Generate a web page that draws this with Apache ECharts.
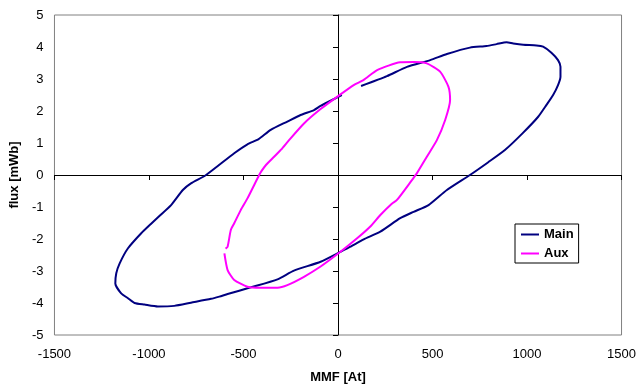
<!DOCTYPE html>
<html><head><meta charset="utf-8">
<script src="https://cdn.jsdelivr.net/npm/echarts@6/dist/echarts.min.js"></script>
<style>html,body{margin:0;padding:0;background:#fff;}#c{width:639px;height:390px;}</style>
</head><body><div id="c"></div>
<script>
var xTicks = [-1500, -1000, -500, 0, 500, 1000, 1500];
var yTicks = [-5, -4, -3, -2, -1, 0, 1, 2, 3, 4, 5];
var seriesNames = ['Main', 'Aux'];
var mainX = [122, 259, 365, 488, 576, 698, 786, 839, 892, 927, 980, 1050, 1085, 1129, 1164, 1177, 1177, 1164, 1138, 1103, 1059, 976, 883, 795, 698, 576, 479, 400, 329, 224, 136, 66, 13, -92, -233, -320, -461, -584, -628, -672, -778, -866, -953, -1024, -1076, -1111, -1147, -1178, -1173, -1155, -1111, -1041, -990, -945, -883, -821, -778, -698, -549, -479, -420, -356, -268, -198, -127, -92, 4, 20];
var mainY = [2.78, 3.09, 3.38, 3.59, 3.78, 3.98, 4.03, 4.09, 4.15, 4.11, 4.07, 4.05, 4.01, 3.82, 3.59, 3.38, 3.07, 2.81, 2.5, 2.19, 1.82, 1.30, 0.78, 0.40, 0, -0.47, -0.94, -1.15, -1.35, -1.77, -2.01, -2.24, -2.40, -2.71, -2.99, -3.26, -3.51, -3.72, -3.80, -3.87, -3.99, -4.09, -4.11, -4.05, -4.0, -3.85, -3.70, -3.39, -3.07, -2.76, -2.29, -1.82, -1.53, -1.28, -0.94, -0.47, -0.26, 0, 0.68, 0.96, 1.12, 1.41, 1.67, 1.875, 2.03, 2.16, 2.45, 2.5];
var auxX = [-601, -584, -549, -479, -409, -320, -268, -180, -92, 13, 101, 171, 224, 286, 312, 391, 417, 470, 523, 567, 593, 584, 540, 470, 400, 329, 207, 136, 83, 4, -92, -180, -259, -300, -338, -380, -405, -417, -479, -514, -549, -567, -584, -595];
var auxY = [-2.45, -2.97, -3.28, -3.49, -3.52, -3.52, -3.44, -3.18, -2.86, -2.40, -1.98, -1.61, -1.25, -0.89, -0.78, -0.16, 0.05, 0.57, 1.09, 1.72, 2.34, 2.76, 3.23, 3.49, 3.53, 3.52, 3.28, 2.97, 2.81, 2.48, 2.06, 1.61, 1.09, 0.8, 0.57, 0.32, 0.12, 0, -0.73, -1.09, -1.51, -1.72, -2.24, -2.30];
var xTitle = 'MMF [At]';
var yTitle = 'flux [mWb]';

function pairs(xs, ys){ return xs.map(function(x,i){ return [x, ys[i]]; }); }
var FONT = "'Liberation Sans', Arial, sans-serif";
var chart = echarts.init(document.getElementById('c'), null, {renderer:'canvas'});
var xMin = xTicks[0], xMax = xTicks[xTicks.length-1], xInt = xTicks[1]-xTicks[0];
var yMin = yTicks[0], yMax = yTicks[yTicks.length-1], yInt = yTicks[1]-yTicks[0];
function plain(v){ return String(v); }
chart.setOption({
  animation: false,
  backgroundColor: '#fff',
  grid: {left: 53, right: 17, top: 15, bottom: 55, show: true, borderColor: '#808080', borderWidth: 1, backgroundColor: 'transparent'},
  legend: {
    data: seriesNames, orient: 'vertical', left: 515, top: 224,
    borderColor: '#000', borderWidth: 1, padding: [4, 5, 3, 5], itemGap: 6,
    itemWidth: 18, itemHeight: 14, backgroundColor: '#fff',
    itemStyle: {opacity: 0},
    lineStyle: {width: 2},
    textStyle: {fontFamily: FONT, fontSize: 13, fontWeight: 'bold', color: '#000'}
  },
  xAxis: [
    {type: 'value', min: xMin, max: xMax, interval: xInt, position: 'bottom',
     axisLine: {show: true, onZero: true, lineStyle: {color: '#000', width: 1}},
     axisTick: {show: true, length: 5, lineStyle: {color: '#000'}},
     axisLabel: {show: false}, splitLine: {show: false}},
    {type: 'value', min: xMin, max: xMax, interval: xInt, position: 'bottom',
     axisLine: {show: false, onZero: false}, axisTick: {show: false}, splitLine: {show: false},
     axisLabel: {show: true, margin: 13, formatter: plain, fontFamily: FONT, fontSize: 13, color: '#000'},
     name: xTitle, nameLocation: 'middle', nameGap: 36,
     nameTextStyle: {fontFamily: FONT, fontSize: 13, fontWeight: 'bold', color: '#000'}}
  ],
  yAxis: [
    {type: 'value', min: yMin, max: yMax, interval: yInt, position: 'left',
     axisLine: {show: true, onZero: true, lineStyle: {color: '#000', width: 1}},
     axisTick: {show: true, length: 5, lineStyle: {color: '#000'}},
     axisLabel: {show: false}, splitLine: {show: false}},
    {type: 'value', min: yMin, max: yMax, interval: yInt, position: 'left',
     axisLine: {show: false, onZero: false}, axisTick: {show: false}, splitLine: {show: false},
     axisLabel: {show: true, margin: 11, formatter: plain, fontFamily: FONT, fontSize: 13, color: '#000'},
     name: yTitle, nameLocation: 'middle', nameGap: 28, nameRotate: 90,
     nameTextStyle: {fontFamily: FONT, fontSize: 13, fontWeight: 'bold', color: '#000'}}
  ],
  series: [
    {name: seriesNames[0], type: 'line', xAxisIndex: 0, yAxisIndex: 0, data: pairs(mainX, mainY),
     symbol: 'none', smooth: 0.2, lineStyle: {color: '#000080', width: 2}, itemStyle: {color: '#000080'}},
    {name: seriesNames[1], type: 'line', xAxisIndex: 0, yAxisIndex: 0, data: pairs(auxX, auxY),
     symbol: 'none', smooth: 0.2, lineStyle: {color: '#FF00FF', width: 2}, itemStyle: {color: '#FF00FF'}}
  ]
});
</script></body></html>
